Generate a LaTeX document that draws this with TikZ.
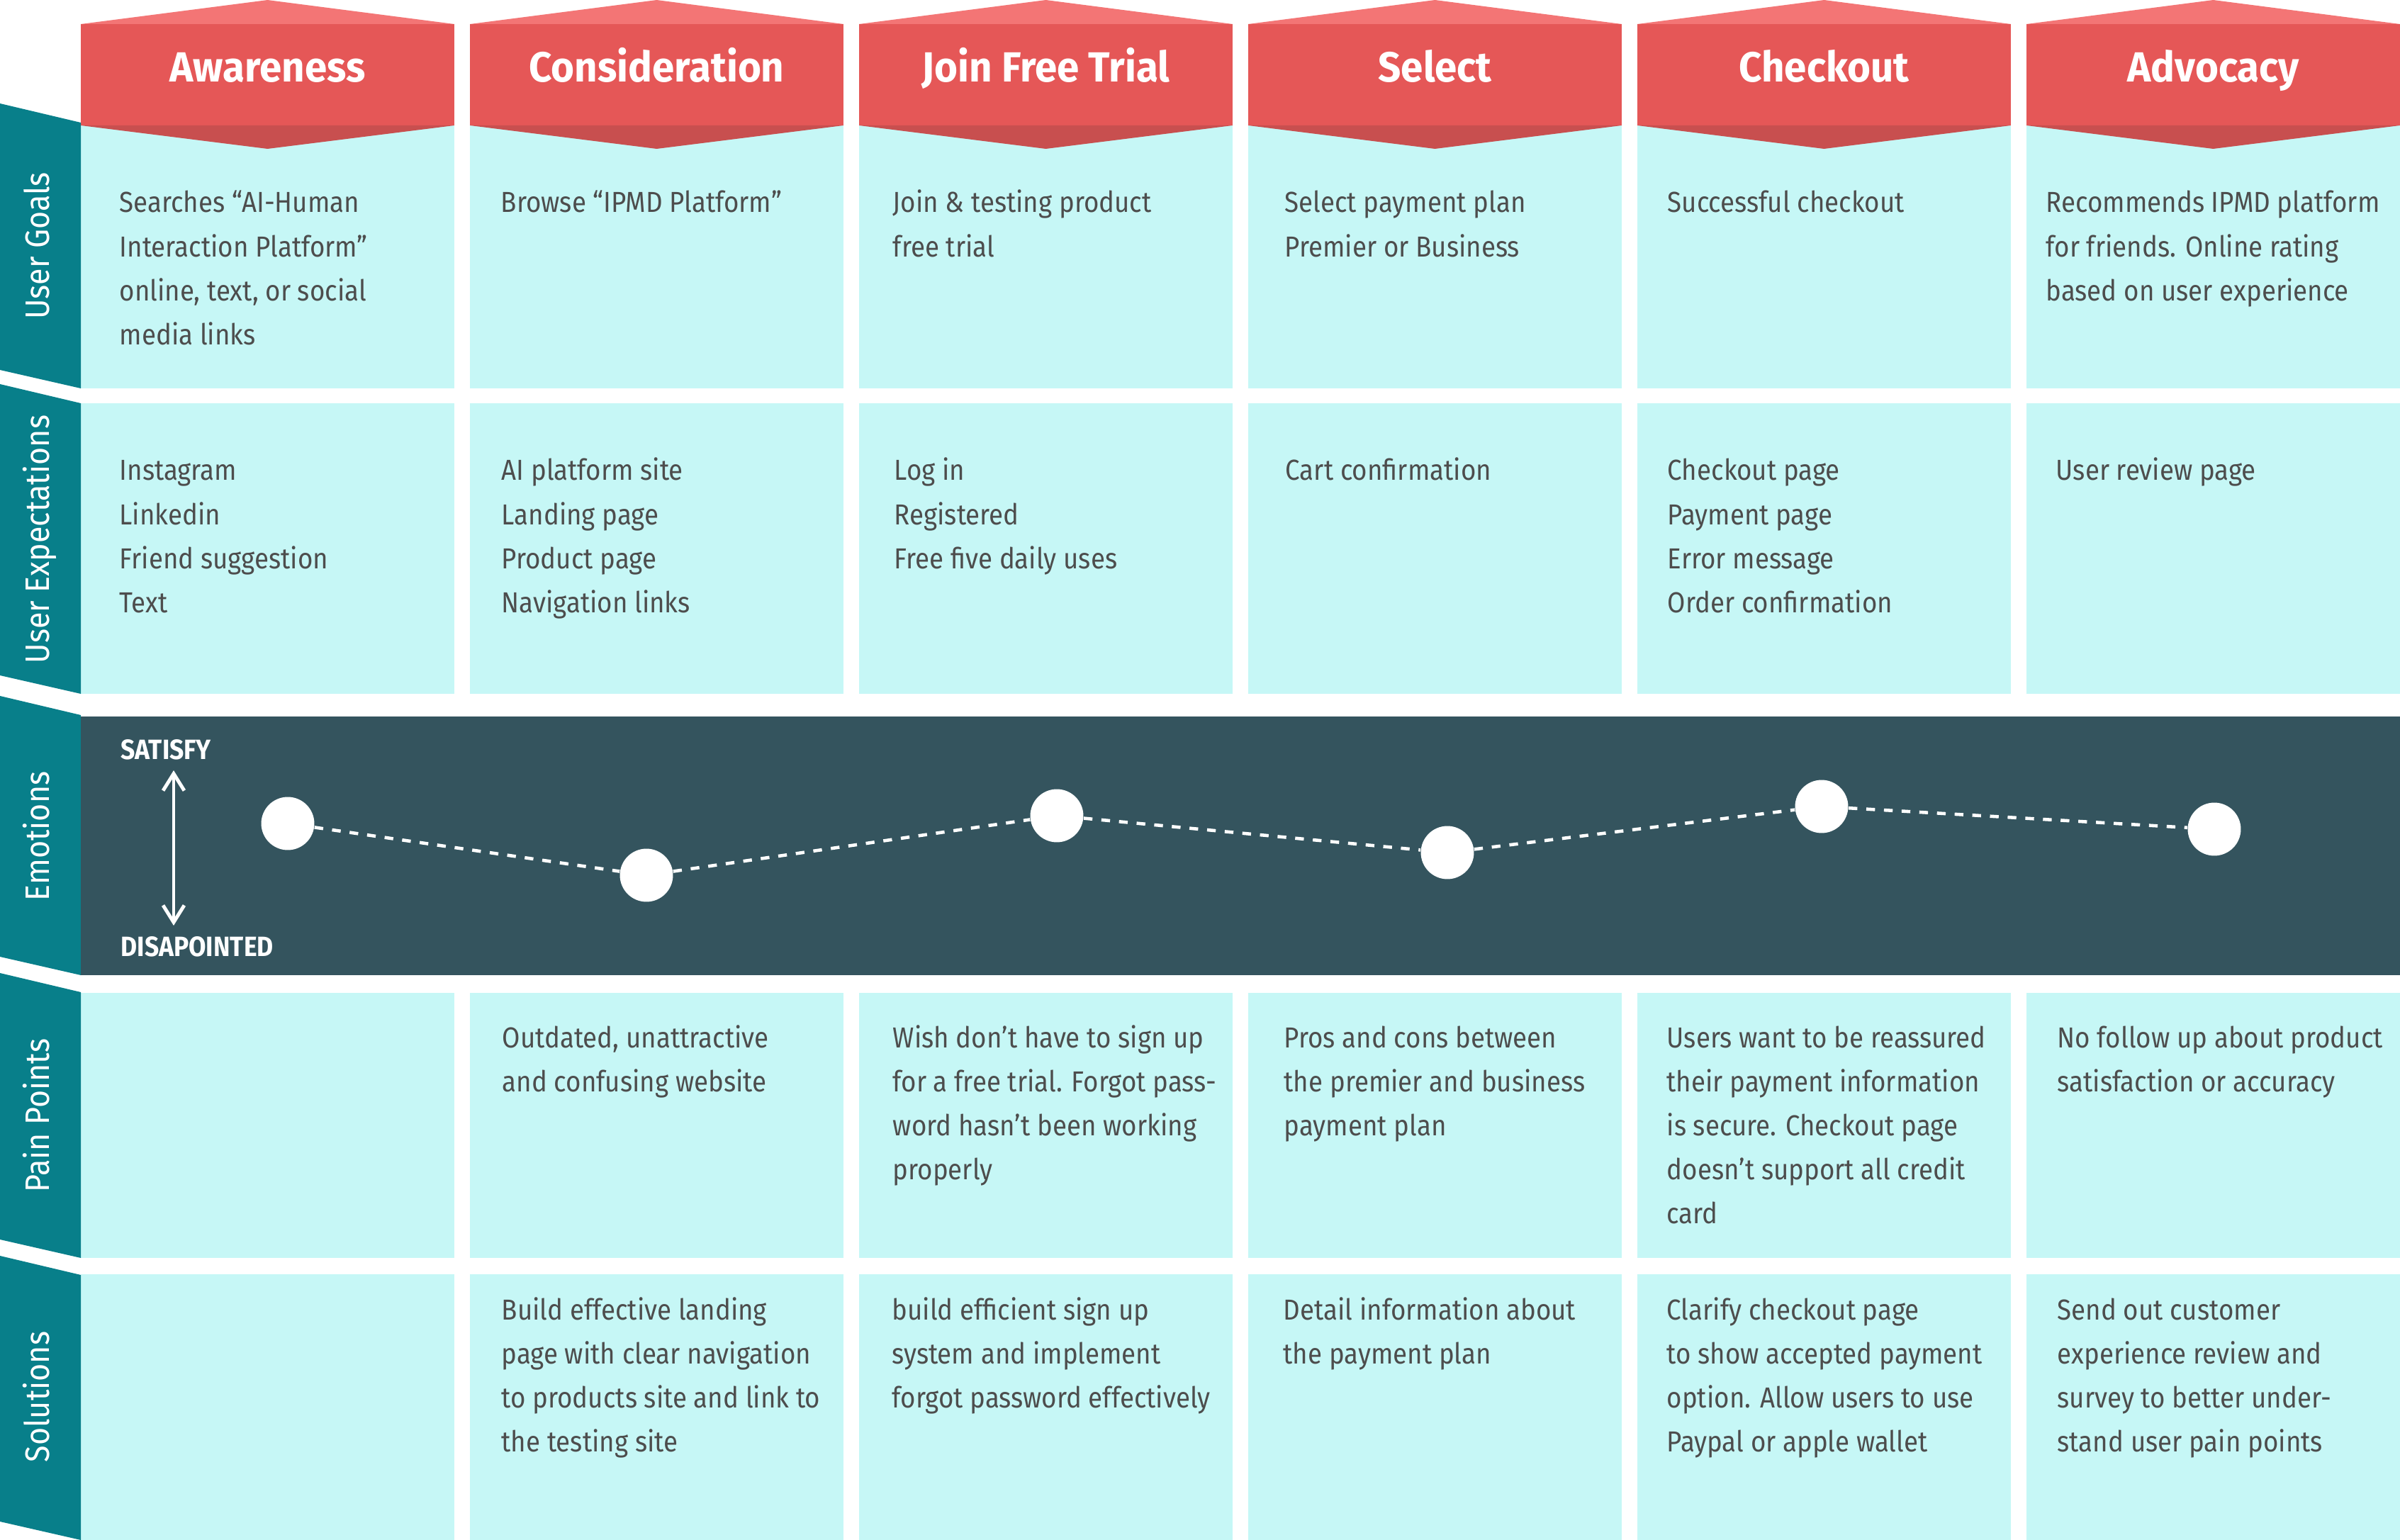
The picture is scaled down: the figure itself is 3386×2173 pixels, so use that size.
\documentclass[tikz,border=0pt]{standalone}
\usepackage{fontspec}
\setmainfont[FakeStretch=0.9]{Fira Sans}
\newfontfamily\headfam[FakeStretch=0.95]{Fira Sans}
\usetikzlibrary{arrows.meta}

\definecolor{hdrmain}{HTML}{E55757}
\definecolor{hdrtop}{HTML}{F37575}
\definecolor{hdrbot}{HTML}{C84F4F}
\definecolor{cellbg}{HTML}{C6F7F6}
\definecolor{tabbg}{HTML}{087F8A}
\definecolor{bandbg}{HTML}{34545E}
\definecolor{bodytxt}{HTML}{4D4D4D}

% multi-line cell text whose reference point is the first baseline
\newcommand\celllines[1]{\begin{tabular}[t]{@{}l@{}}#1\end{tabular}}

\tikzset{
  celltext/.style={anchor=base west, inner sep=0pt, text=bodytxt,
    font=\fontsize{11.6}{17.64}\selectfont},
  hdrlabel/.style={anchor=base, inner sep=0pt, text=white,
    font=\headfam\bfseries\fontsize{16.9}{20}\selectfont},
  tablabel/.style={anchor=base, inner sep=0pt, text=white, rotate=90,
    font=\fontsize{13.6}{16}\selectfont},
  scalelabel/.style={anchor=base west, inner sep=0pt, text=white,
    font=\bfseries\fontsize{11.2}{13}\selectfont},
  mood/.style={circle, fill=white, minimum size=21.3pt, inner sep=0pt},
  moodlink/.style={white, line width=1.3pt, dash pattern=on 3.5pt off 3.6pt},
  scalebarb/.tip={Straight Barb[length=6.8pt,width=8.5pt,line width=1.4pt]},
}

\begin{document}
\begin{tikzpicture}[x=0.01cm, y=-0.01cm]
\path[use as bounding box] (0,0) rectangle (3386,2173);

% ---- stage columns: header banner and cells ----
\foreach \i/\name in {0/Awareness, 1/Consideration, 2/Join Free Trial,
                      3/Select, 4/Checkout, 5/Advocacy} {
  \pgfmathsetmacro\L{114+549*\i}
  \pgfmathsetmacro\R{\L+527}
  \pgfmathsetmacro\C{\L+263.5}
  \fill[cellbg] (\L,177) rectangle (\R,548);
  \fill[cellbg] (\L,569) rectangle (\R,979);
  \fill[cellbg] (\L,1401) rectangle (\R,1775);
  \fill[cellbg] (\L,1798) rectangle (\R,2173);
  \fill[hdrtop] (\L,34) -- (\C,0) -- (\R,34) -- cycle;
  \fill[hdrmain] (\L,34) rectangle (\R,177);
  \fill[hdrbot] (\L,177) -- (\C,210) -- (\R,177) -- cycle;
  \node[hdrlabel] (hdr\i) at (\C,116) {\name};
}

% ---- row tabs on the left ----
\foreach \t/\b in {173/548, 569/979, 1009/1376, 1400/1775, 1799/2173} {
  \fill[tabbg] (0,\t-27) -- (114,\t) -- (114,\b) -- (0,\b-26) -- cycle;
}
\node[tablabel] (labgoals) at (70,347) {User Goals};
\node[tablabel] (labexp)   at (70,761) {User Expectations};
\node[tablabel] (labemo)   at (70,1180) {Emotions};
\node[tablabel] (labpain)  at (70,1574) {Pain Points};
\node[tablabel] (labsol)   at (70,1971) {Solutions};

% ---- user goals ----
\node[celltext] (g1) at (168,300) {\celllines{Searches “AI-Human\\Interaction Platform”\\online, text, or social\\media links}};
\node[celltext] (g2) at (706,300) {\celllines{Browse “IPMD Platform”}};
\node[celltext] (g3) at (1259,300) {\celllines{Join \& testing product\\free trial}};
\node[celltext] (g4) at (1812,300) {\celllines{Select payment plan\\Premier or Business}};
\node[celltext] (g5) at (2352,300) {\celllines{Successful checkout}};
\node[celltext] (g6) at (2886,300) {\celllines{Recommends IPMD platform\\for friends. Online rating\\based on user experience}};

% ---- user expectations ----
\node[celltext] (e1) at (168,678) {\celllines{Instagram\\Linkedin\\Friend suggestion\\Text}};
\node[celltext] (e2) at (707,678) {\celllines{AI platform site\\Landing page\\Product page\\Navigation links}};
\node[celltext] (e3) at (1261,678) {\celllines{Log in\\Registered\\Free five daily uses}};
\node[celltext] (e4) at (1813,678) {\celllines{Cart confirmation}};
\node[celltext] (e5) at (2352,678) {\celllines{Checkout page\\Payment page\\Error message\\Order confirmation}};
\node[celltext] (e6) at (2900,678) {\celllines{User review page}};

% ---- emotions band ----
\fill[bandbg] (114,1011) rectangle (3386,1376);
\node[scalelabel] (satisfy) at (170,1071) {SATISFY};
\node[scalelabel] (disap) at (170,1349) {DISAPOINTED};
\coordinate (scaletop) at (245,1087);
\coordinate (scalebot) at (245,1306);
\draw[white, line width=1.2pt, {scalebarb}-{scalebarb}] (scaletop) -- (scalebot);

\node[mood] (m1) at (406,1162) {};
\node[mood] (m2) at (912,1235) {};
\node[mood] (m3) at (1491,1151) {};
\node[mood] (m4) at (2042,1203) {};
\node[mood] (m5) at (2570,1138) {};
\node[mood] (m6) at (3124,1170) {};
\foreach \a/\b in {m1/m2, m2/m3, m3/m4, m4/m5, m5/m6}
  \draw[moodlink] (\a) -- (\b);

% ---- pain points ----
\node[celltext] (p2) at (708,1478) {\celllines{Outdated, unattractive\\and confusing website}};
\node[celltext] (p3) at (1259,1478) {\celllines{Wish don't have to sign up\\for a free trial. Forgot pass-\\word hasn't been working\\properly}};
\node[celltext] (p4) at (1811,1478) {\celllines{Pros and cons between\\the premier and business\\payment plan}};
\node[celltext] (p5) at (2351,1478) {\celllines{Users want to be reassured\\their payment information\\is secure. Checkout page\\doesn't support all credit\\card}};
\node[celltext] (p6) at (2902,1478) {\celllines{No follow up about product\\satisfaction or accuracy}};

% ---- solutions ----
\node[celltext] (s2) at (707,1862) {\celllines{Build effective landing\\page with clear navigation\\to products site and link to\\the testing site}};
\node[celltext] (s3) at (1258,1862) {\celllines{build efficient sign up\\system and implement\\forgot password effectively}};
\node[celltext] (s4) at (1810,1862) {\celllines{Detail information about\\the payment plan}};
\node[celltext] (s5) at (2351,1862) {\celllines{Clarify checkout page\\to show accepted payment\\option. Allow users to use\\Paypal or apple wallet}};
\node[celltext] (s6) at (2902,1862) {\celllines{Send out customer\\experience review and\\survey to better under-\\stand user pain points}};
\end{tikzpicture}
\end{document}
